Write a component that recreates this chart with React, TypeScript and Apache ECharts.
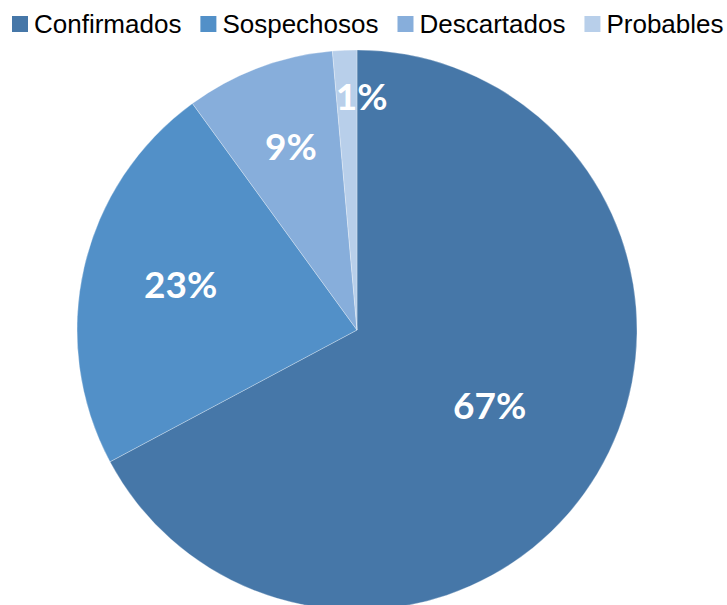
import React, { useEffect, useRef } from "react";
import * as echarts from "echarts";

const categories = ["Confirmados", "Sospechosos", "Descartados", "Probables"];
const values = [67.2, 22.8, 8.6, 1.4];
const colors = ["#4677a8", "#5290c8", "#87aedb", "#b8cfea"];
const labelOffsets: [number, number][] = [[10, 1], [-37, -14], [-16, -51], [11, -92]];

export default function App() {
  const ref = useRef<HTMLDivElement>(null);
  useEffect(() => {
    if (!ref.current) return;
    const chart = echarts.init(ref.current, undefined, { renderer: "svg" });
    chart.setOption({
      animation: false,
      color: colors,
      legend: {
        top: 11,
        left: 10,
        width: 900,
        padding: 0,
        itemWidth: 18,
        itemHeight: 18,
        itemGap: 17,
        icon: "rect",
        textStyle: { fontFamily: "Liberation Sans", fontSize: 26, color: "#000" },
        data: categories,
      },
      series: [
        {
          type: "pie",
          center: [357, 330],
          radius: 280,
          startAngle: 90,
          clockwise: true,
          percentPrecision: 0,
          label: {
            show: true,
            position: "inside",
            formatter: "{d}%",
            color: "#fff",
            fontFamily: "Lato",
            fontWeight: "bold",
            fontSize: 37,
          },
          labelLine: { show: false },
          itemStyle: { borderColor: "#fff", borderWidth: 0.3 },
          emphasis: { disabled: true },
          data: categories.map((name, i) => ({
            name,
            value: values[i],
            label: { offset: labelOffsets[i] },
          })),
        },
      ],
    });
    return () => chart.dispose();
  }, []);
  return <div ref={ref} style={{ position: "absolute", left: 0, top: 0, width: 727, height: 605 }} />;
}
